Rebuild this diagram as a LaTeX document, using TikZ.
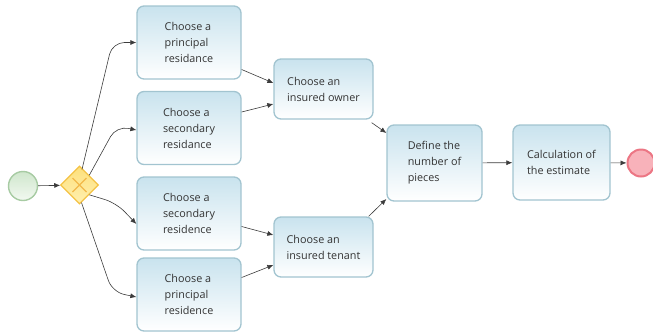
\documentclass[tikz,border=0pt]{standalone}
\usepackage{fontspec}
\setmainfont{Open Sans}
\usetikzlibrary{arrows.meta,shapes.geometric}
\definecolor{boxborder}{HTML}{A2C4D0}
\definecolor{boxtop}{HTML}{C9E3EE}
\definecolor{txt}{HTML}{333333}
\definecolor{lin}{HTML}{3C3C3C}
\definecolor{stb}{HTML}{A7CBA3}
\definecolor{stt}{HTML}{CFE6CC}
\definecolor{stbot}{HTML}{F2F9F1}
\definecolor{endb}{HTML}{EC7684}
\definecolor{endf}{HTML}{F8B2BA}
\definecolor{gwb}{HTML}{F4C244}
\definecolor{gwf}{HTML}{FDE07C}
\definecolor{gwbot}{HTML}{FFF0B0}
\definecolor{gwx}{HTML}{F2B94A}
\tikzset{
  task/.style={draw=boxborder, line width=1.3pt, rounded corners=7pt,
    top color=boxtop, bottom color=white, align=left, text=txt,
    font=\fontsize{10.8pt}{16pt}\selectfont, inner sep=0pt},
  flow/.style={draw=lin, line width=0.6pt, -{Latex[length=6pt,width=5pt]}},
  gwflow/.style={flow, rounded corners=12pt},
}
\begin{document}
\begin{tikzpicture}[x=1pt,y=-1pt]
\useasboundingbox (0,0) rectangle (653,333);
% tasks
\node[task, minimum width=104pt, minimum height=73pt] (a1) at (189,42.5) {Choose a\\principal\\residance};
\node[task, minimum width=104pt, minimum height=73pt] (a2) at (189,128) {Choose a\\secondary\\residance};
\node[task, minimum width=104pt, minimum height=73pt] (b1) at (189,213.5) {Choose a\\secondary\\residence};
\node[task, minimum width=104pt, minimum height=73pt] (b2) at (189,294.5) {Choose a\\principal\\residence};
\node[task, minimum width=99pt, minimum height=60pt] (own) at (323.5,89) {Choose an\\insured owner};
\node[task, minimum width=99pt, minimum height=60pt] (ten) at (323.5,247) {Choose an\\insured tenant};
\node[task, minimum width=95pt, minimum height=76pt] (def) at (434.5,163) {Define the\\number of\\pieces};
\node[task, minimum width=97pt, minimum height=75pt] (calc) at (561.5,162.5) {Calculation of\\the estimate};
% events
\node[circle, draw=stb, line width=1.4pt, top color=stt, bottom color=stbot, minimum size=29pt, inner sep=0pt] (start) at (23,186) {};
\node[circle, draw=endb, line width=2pt, fill=endf, minimum size=27pt, inner sep=0pt] (end) at (641,163) {};
% gateway
\node[diamond, draw=gwb, line width=1.2pt, top color=gwf, bottom color=gwbot, minimum size=38pt, inner sep=0pt] (gw) at (79.5,185) {};
\draw[gwx, line width=1.2pt] ([shift={(-7,-7)}]gw.center) -- ([shift={(7,7)}]gw.center)
  ([shift={(-7,7)}]gw.center) -- ([shift={(7,-7)}]gw.center);
% flows
\draw[flow] (start) -- (gw);
\draw[gwflow] ([shift={(2.5,4)}]gw.north) -- ([xshift=-24pt]a1.west) -- (a1.west);
\draw[gwflow] (gw.north east) -- ([shift={(-20,-2)}]a2.west) -- ([yshift=-2pt]a2.west);
\draw[gwflow] (gw.south east) -- ([shift={(-20,-10.5)}]b1.west) -- ([yshift=-10.5pt]b1.west);
\draw[gwflow] ([shift={(2,-2)}]gw.south) -- ([shift={(-24,-2.5)}]b2.west) -- ([yshift=-2.5pt]b2.west);
\draw[flow] ([yshift=-27pt]a1.east) -- ([yshift=6pt]own.west);
\draw[flow] ([yshift=16pt]a2.east) -- ([yshift=-15pt]own.west);
\draw[flow] ([yshift=-13pt]b1.east) -- ([yshift=12pt]ten.west);
\draw[flow] ([yshift=17pt]b2.east) -- ([yshift=-18pt]ten.west);
\draw[flow] ([shift={(-2,3)}]own.south east) -- ([yshift=30pt]def.west);
\draw[flow] ([shift={(-5,0)}]ten.north east) -- ([yshift=-36pt]def.west);
\draw[flow] (def) -- (calc);
\draw[flow] (calc) -- (end);
\end{tikzpicture}
\end{document}
